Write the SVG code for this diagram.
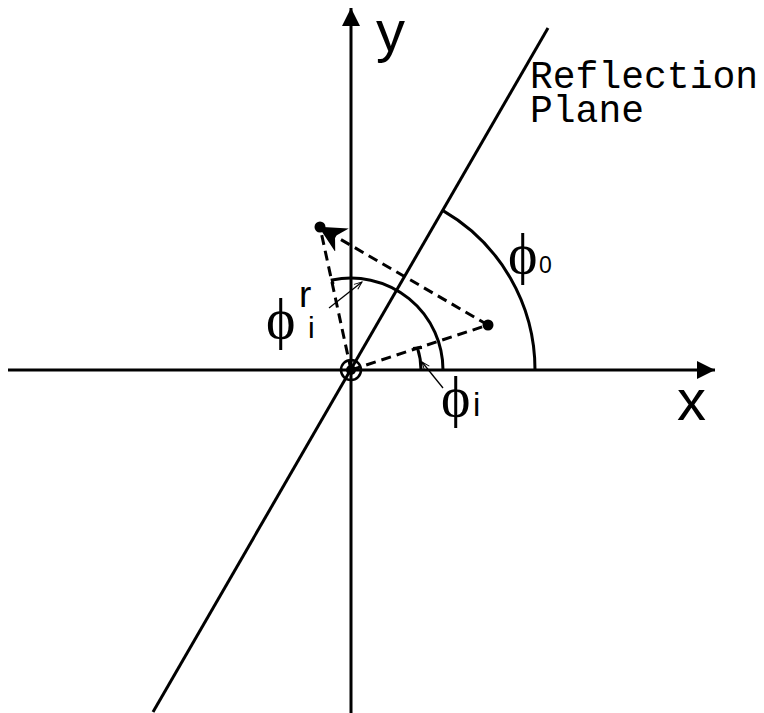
<svg xmlns="http://www.w3.org/2000/svg" width="764" height="713" viewBox="0 0 764 713">
<style>
.ln{stroke:#000;stroke-width:3;fill:none}
.ds{stroke:#000;stroke-width:3;fill:none;stroke-dasharray:10 6}
.th{stroke:#000;stroke-width:1.3;fill:none}
.sans{font-family:"Liberation Sans",Arial,sans-serif;fill:#000}
.serif{font-family:"Liberation Serif","Times New Roman","DejaVu Serif",serif;fill:#000}
.mono{font-family:"Liberation Mono","Courier New",monospace;fill:#000}
</style>
<defs>
<marker id="ah" viewBox="0 0 10 10" refX="10" refY="5" markerWidth="9" markerHeight="6" markerUnits="strokeWidth" orient="auto"><path d="M0,0 L10,5 L0,10 Z" fill="#000"/></marker>
<marker id="ad" viewBox="0 0 10 10" refX="9" refY="5" markerWidth="9" markerHeight="9" markerUnits="strokeWidth" orient="auto"><path d="M0,0 L10,5 L0,10 L3,5 Z" fill="#000"/></marker>
<marker id="at" viewBox="0 0 10 10" refX="10" refY="5" markerWidth="8" markerHeight="6" markerUnits="strokeWidth" orient="auto"><path d="M0,1 L10,5 L0,9" fill="none" stroke="#000" stroke-width="1.2"/></marker>
</defs>
<g id="connectors">
<line id="x-axis" class="ln" x1="8" y1="370" x2="715" y2="370" marker-end="url(#ah)"/>
<line id="y-axis" class="ln" x1="351" y1="713" x2="351" y2="8" marker-end="url(#ah)"/>
<line id="plane" class="ln" x1="548" y1="28" x2="153" y2="712"/>
<path id="arc-phi0" class="ln" d="M535,370 A184,184 0 0 0 443,210.6"/>
<path id="arc-phir" class="ln" d="M443,370 A92,92 0 0 0 332.2,280 L333,284"/>
<path id="arc-phii" class="ln" d="M421,370 A70,70 0 0 0 417.5,348.1 M413,348.5 L422,347.5"/>
<line id="d-inc" class="ds" x1="351" y1="370" x2="488" y2="325"/>
<line id="d-ref" class="ds" x1="351" y1="370" x2="320" y2="227"/>
<line id="d-cross" class="ds" x1="488" y1="325" x2="321" y2="228" marker-end="url(#ad)"/>
<line id="lbl-r" class="th" x1="329" y1="308" x2="362" y2="282" marker-end="url(#at)"/>
<line id="lbl-i" class="th" x1="443" y1="388" x2="422" y2="362" marker-end="url(#at)"/>
</g>
<g id="origin">
<circle cx="351" cy="370" r="10" fill="none" stroke="#000" stroke-width="2.5"/>
<circle cx="351" cy="370" r="5" fill="#000"/>
</g>
<g id="point-incident"><circle cx="488" cy="325" r="5.5" fill="#000"/></g>
<g id="point-reflected"><circle cx="320" cy="227" r="5.5" fill="#000"/></g>
<g id="labels">
<text class="sans" x="376" y="51" font-size="58">y</text>
<text class="sans" x="677" y="420" font-size="58">x</text>
<text class="mono" x="530" y="88" font-size="38">Reflection</text>
<text class="mono" x="530" y="122" font-size="38">Plane</text>
<text class="serif" x="508" y="273" font-size="56">ϕ</text>
<text class="sans" x="539" y="273" font-size="23">0</text>
<text class="serif" x="441" y="416" font-size="56">ϕ</text>
<text class="sans" x="473" y="416" font-size="33">i</text>
<text class="serif" x="266" y="338" font-size="56">ϕ</text>
<text class="sans" x="299" y="307" font-size="37">r</text>
<text class="sans" x="308" y="338" font-size="30">i</text>
</g>
</svg>
